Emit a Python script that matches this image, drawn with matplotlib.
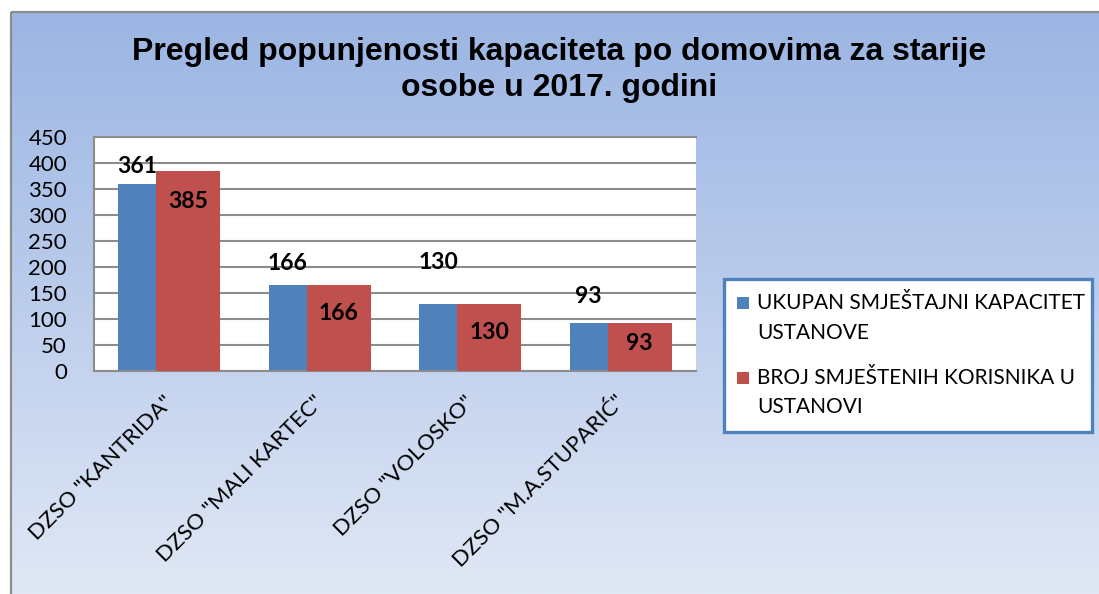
import matplotlib
matplotlib.use("Agg")
import matplotlib.pyplot as plt
import numpy as np
from matplotlib.patches import Rectangle
from matplotlib.colors import LinearSegmentedColormap

# ---- data ----
categories = ['DZSO "KANTRIDA"', 'DZSO "MALI KARTEC"', 'DZSO "VOLOSKO"', 'DZSO "M.A.STUPARIĆ"']
capacity = [361, 166, 130, 93]
residents = [385, 166, 130, 93]
series_names = ['UKUPAN SMJEŠTAJNI KAPACITET\nUSTANOVE', 'BROJ SMJEŠTENIH KORISNIKA U\nUSTANOVI']
yticks = [0, 50, 100, 150, 200, 250, 300, 350, 400, 450]
title = 'Pregled popunjenosti kapaciteta po domovima za starije\nosobe u 2017. godini'

BLUE = '#4F81BD'
RED = '#C0504D'
GRID = '#8C8C8C'
FONT = 'Lato'

W, H = 1099, 594
fig = plt.figure(figsize=(W / 100, H / 100), dpi=100)
fig.patch.set_facecolor('white')


def fx(px):
    return px / W


def fy(py):
    return 1 - py / H


# ---- background with gradient ----
bg = fig.add_axes([0, 0, 1, 1], zorder=-10)
bg.set_axis_off()
grad = np.linspace(0, 1, 256).reshape(-1, 1)
cmap = LinearSegmentedColormap.from_list('g', ['#9BB5E3', '#BCCDEC', '#E1E8F5'])
bg.imshow(grad, aspect='auto', cmap=cmap, origin='upper',
          extent=[fx(11), 1, 0, fy(13)])
bg.plot([fx(11), fx(11)], [0, fy(12)], color=GRID, lw=1.6, solid_capstyle='butt')
bg.plot([fx(10.5), 1], [fy(12), fy(12)], color=GRID, lw=1.6, solid_capstyle='butt')
bg.set_xlim(0, 1)
bg.set_ylim(0, 1)

# ---- main axes ----
ax = fig.add_axes([fx(94), fy(371), (696 - 94) / W, (371 - 137.5) / H])
ax.set_facecolor('white')
x = np.arange(len(categories))
w = 0.425
off = 0.126
ax.bar(x - off, capacity, w, color=BLUE, zorder=2)
ax.bar(x + off, residents, w, color=RED, zorder=3)
ax.set_xlim(-0.5, len(categories) - 0.5)
ax.set_ylim(0, 450)
ax.set_yticks(yticks)
ax.set_yticklabels([str(t) for t in yticks], fontsize=16, family=FONT)
ax.yaxis.grid(True, color=GRID, lw=1.5)
ax.set_axisbelow(True)
ax.tick_params(axis='y', length=0, pad=19.5)
ax.tick_params(axis='x', length=0)
ax.set_xticks(x)
ax.set_xticklabels([])
for s in ['left', 'bottom', 'top']:
    ax.spines[s].set_color(GRID)
    ax.spines[s].set_linewidth(1.5)
ax.spines['right'].set_visible(False)

# data labels
blue_off = [17, 21, 41, 26]
red_off = [-30, -29, -29, -21]
for i, v in enumerate(capacity):
    ax.annotate(str(v), (x[i] - w / 2, v), xytext=(0, blue_off[i]), textcoords='offset pixels',
                ha='center', va='center', fontsize=16.5, fontweight='bold', family=FONT,
                zorder=5, annotation_clip=False)
for i, v in enumerate(residents):
    ax.annotate(str(v), (x[i] + off, v), xytext=(0, red_off[i]), textcoords='offset pixels',
                ha='center', va='center', fontsize=16.5, fontweight='bold', family=FONT,
                zorder=5, annotation_clip=False)

# category labels (rotated, top-right corner at the category centre)
for i, c in enumerate(categories):
    ax.annotate(c, (x[i], 0), xytext=(-6, -21), textcoords='offset pixels',
                ha='right', va='top', rotation=45, rotation_mode='anchor',
                fontsize=16, family=FONT, annotation_clip=False)

# title
fig.text(fx(559), fy(70), title, ha='center', va='center', fontsize=23,
         fontweight='bold', family='Liberation Sans', linespacing=1.28)

# ---- legend (manual) ----
fig.patches.append(Rectangle((fx(724), fy(432)), (1092 - 724) / W, (432 - 279) / H,
                             transform=fig.transFigure, facecolor='white',
                             edgecolor=BLUE, lw=2.4, zorder=5))
leg_colors = [BLUE, RED]
leg_line_y = [[303, 333], [378, 407]]
for k, name in enumerate(series_names):
    y0 = leg_line_y[k][0]
    fig.patches.append(Rectangle((fx(737), fy(y0 + 6)), 12 / W, 12 / H,
                                 transform=fig.transFigure, facecolor=leg_colors[k],
                                 edgecolor='none', zorder=6))
    for j, line in enumerate(name.split('\n')):
        fig.text(fx(757), fy(leg_line_y[k][j]), line, ha='left', va='center',
                 fontsize=15, family=FONT, zorder=7)

fig.savefig('out.png', dpi=100)
